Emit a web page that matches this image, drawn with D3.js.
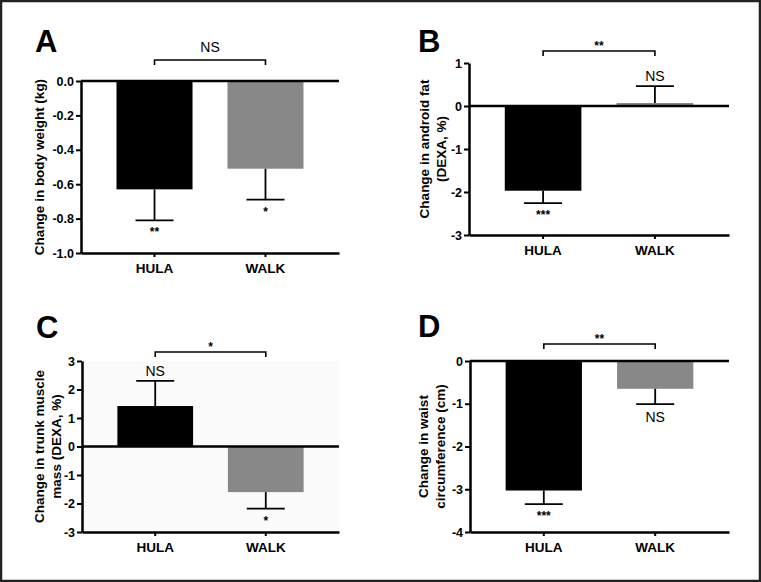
<!DOCTYPE html>
<html>
<head>
<meta charset="utf-8">
<script src="https://cdn.jsdelivr.net/npm/d3@7"></script>
<style>
	html, body { margin: 0; padding: 0; background: #fff; }
	svg { display: block; font-family: "Liberation Sans", Arial, sans-serif; }
</style>
</head>
<body>
<svg id="chart" width="761" height="582"></svg>
<script>
// groups on the x axis
var groups = ["HULA", "WALK"];

// A: body weight (kg)
var weightMean = [-0.63, -0.51],
	weightErr  = [0.18, 0.18],
	weightSig  = ["**", "*"],
	weightTicks = [0, -0.2, -0.4, -0.6, -0.8, -1.0];

// B: android fat (DEXA, %)
var fatMean = [-1.97, 0.07],
	fatErr  = [0.29, 0.39],
	fatSig  = ["***", "NS"],
	fatTicks = [1, 0, -1, -2, -3];

// C: trunk muscle mass (DEXA, %)
var muscleMean = [1.42, -1.60],
	muscleErr  = [0.88, 0.58],
	muscleSig  = ["NS", "*"],
	muscleTicks = [3, 2, 1, 0, -1, -2, -3];

// D: waist circumference (cm)
var waistMean = [-3.03, -0.65],
	waistErr  = [0.32, 0.36],
	waistSig  = ["***", "NS"],
	waistTicks = [0, -1, -2, -3, -4];

// HULA vs WALK comparison, one per panel
var betweenSig = ["NS", "**", "*", "**"];

var panels = [
	{ letter: "A", mean: weightMean, err: weightErr, sig: weightSig, ticks: weightTicks,
	  domain: [-1, 0], fmt: function(d) { return d.toFixed(1); },
	  label: ["Change in body weight (kg)"] },
	{ letter: "B", mean: fatMean, err: fatErr, sig: fatSig, ticks: fatTicks,
	  domain: [-3, 1], fmt: String,
	  label: ["Change in android fat", "(DEXA, %)"] },
	{ letter: "C", mean: muscleMean, err: muscleErr, sig: muscleSig, ticks: muscleTicks,
	  domain: [-3, 3], fmt: String,
	  label: ["Change in trunk muscle", "mass (DEXA, %)"] },
	{ letter: "D", mean: waistMean, err: waistErr, sig: waistSig, ticks: waistTicks,
	  domain: [-4, 0], fmt: String,
	  label: ["Change in waist", "circumference (cm)"] }
];

// where each panel sits on the page
var layout = [
	{ x0: 81,  x1: 339, y0: 81,  y1: 253, bracket: 60,  lx: 35,  ly: 52,  tx: [39] },
	{ x0: 469, x1: 729, y0: 63,  y1: 235, bracket: 51,  lx: 418, ly: 52,  tx: [424, 441] },
	{ x0: 82,  x1: 339, y0: 361, y1: 532, bracket: 352, lx: 36,  ly: 338, tx: [39, 56], bg: "#fafafa" },
	{ x0: 470, x1: 729, y0: 361, y1: 532, bracket: 344, lx: 418, ly: 337, tx: [423, 440] }
];

var colors = ["#000000", "#888888"];

var svg = d3.select("#chart");

// outer frame
svg.append("rect")
	.attr("x", 1).attr("y", 1)
	.attr("width", 759).attr("height", 580)
	.attr("fill", "#fff")
	.attr("stroke", "#222")
	.attr("stroke-width", 2.5);

panels.forEach(function(p, i) {
	var L = layout[i],
		g = svg.append("g");

	var x = d3.scaleBand()
		.domain(groups)
		.range([L.x0, L.x1])
		.paddingInner(0.315)
		.paddingOuter(0.32);

	var y = d3.scaleLinear()
		.domain(p.domain)
		.range([L.y1, L.y0]);

	if (L.bg) {
		g.append("rect")
			.attr("x", L.x0).attr("y", L.y0)
			.attr("width", L.x1 - L.x0).attr("height", L.y1 - L.y0)
			.attr("fill", L.bg);
	}

	var rows = groups.map(function(name, j) {
		return { name: name, mean: p.mean[j], err: p.err[j], sig: p.sig[j], color: colors[j] };
	});

	// bars
	g.selectAll("rect.bar")
		.data(rows)
		.enter().append("rect")
		.attr("class", "bar")
		.attr("x", function(d) { return x(d.name); })
		.attr("width", x.bandwidth())
		.attr("y", function(d) { return y(Math.max(0, d.mean)); })
		.attr("height", function(d) { return Math.abs(y(d.mean) - y(0)); })
		.attr("fill", function(d) { return d.color; });

	// error bars (one-sided, away from zero)
	var tip = function(d) { return d.mean + (d.mean >= 0 ? d.err : -d.err); };
	var cx = function(d) { return x(d.name) + x.bandwidth() / 2; };

	g.selectAll("line.err")
		.data(rows)
		.enter().append("line")
		.attr("class", "err")
		.attr("x1", cx).attr("x2", cx)
		.attr("y1", function(d) { return y(d.mean); })
		.attr("y2", function(d) { return y(tip(d)); })
		.attr("stroke", "#000").attr("stroke-width", 1.8);

	g.selectAll("line.cap")
		.data(rows)
		.enter().append("line")
		.attr("class", "cap")
		.attr("x1", function(d) { return cx(d) - 19; })
		.attr("x2", function(d) { return cx(d) + 19; })
		.attr("y1", function(d) { return y(tip(d)); })
		.attr("y2", function(d) { return y(tip(d)); })
		.attr("stroke", "#000").attr("stroke-width", 1.8);

	// significance vs baseline
	g.selectAll("text.sig")
		.data(rows)
		.enter().append("text")
		.attr("class", "sig")
		.attr("x", cx)
		.attr("y", function(d) {
			var cy = y(tip(d));
			if (d.sig === "NS") return d.mean >= 0 ? cy - 5 : cy + 18;
			return d.mean >= 0 ? cy - 4 : cy + 16;
		})
		.attr("text-anchor", "middle")
		.attr("font-size", function(d) { return d.sig === "NS" ? "14px" : "12px"; })
		.attr("font-weight", function(d) { return d.sig === "NS" ? "normal" : "bold"; })
		.text(function(d) { return d.sig; });

	// zero line
	g.append("line")
		.attr("x1", L.x0).attr("x2", L.x1)
		.attr("y1", y(0)).attr("y2", y(0))
		.attr("stroke", "#000").attr("stroke-width", 2.5);

	// axes
	var yAxis = g.append("g")
		.attr("transform", "translate(" + L.x0 + ",0)")
		.call(d3.axisLeft(y).tickValues(p.ticks).tickFormat(p.fmt)
			.tickSize(5).tickPadding(2).tickSizeOuter(0));

	var xAxis = g.append("g")
		.attr("transform", "translate(0," + L.y1 + ")")
		.call(d3.axisBottom(x).tickSize(4).tickPadding(6).tickSizeOuter(0));

	[yAxis, xAxis].forEach(function(ax) {
		ax.select(".domain").attr("stroke", "#000").attr("stroke-width", 2.5);
		ax.selectAll(".tick line").attr("stroke", "#000").attr("stroke-width", 2);
		ax.selectAll(".tick text")
			.attr("fill", "#000")
			.attr("font-family", "Liberation Sans, Arial, sans-serif")
			.attr("font-weight", "bold");
	});
	yAxis.selectAll(".tick text").attr("font-size", "12.5px");
	xAxis.selectAll(".tick text").attr("font-size", "13.5px");

	// HULA vs WALK bracket
	var bx1 = x("HULA") + x.bandwidth() / 2,
		bx2 = x("WALK") + x.bandwidth() / 2,
		by = L.bracket;
	g.append("path")
		.attr("d", "M" + bx1 + "," + (by + 5) + "V" + by + "H" + bx2 + "V" + (by + 5))
		.attr("fill", "none")
		.attr("stroke", "#000").attr("stroke-width", 1.6);

	var bs = betweenSig[i];
	g.append("text")
		.attr("x", (bx1 + bx2) / 2)
		.attr("y", bs === "NS" ? by - 8 : by - 1)
		.attr("text-anchor", "middle")
		.attr("font-size", bs === "NS" ? "14px" : "12px")
		.attr("font-weight", bs === "NS" ? "normal" : "bold")
		.text(bs);

	// y axis title
	var ymid = (L.y0 + L.y1) / 2;
	p.label.forEach(function(line, k) {
		g.append("text")
			.attr("transform", "translate(" + L.tx[k] + "," + ymid + ") rotate(-90)")
			.attr("text-anchor", "middle")
			.attr("dominant-baseline", "central")
			.attr("font-size", "13.5px")
			.attr("font-weight", "bold")
			.text(line);
	});

	// panel letter
	g.append("text")
		.attr("x", L.lx).attr("y", L.ly)
		.attr("font-size", "31px")
		.attr("font-weight", "bold")
		.text(p.letter);
});
</script>
</body>
</html>
